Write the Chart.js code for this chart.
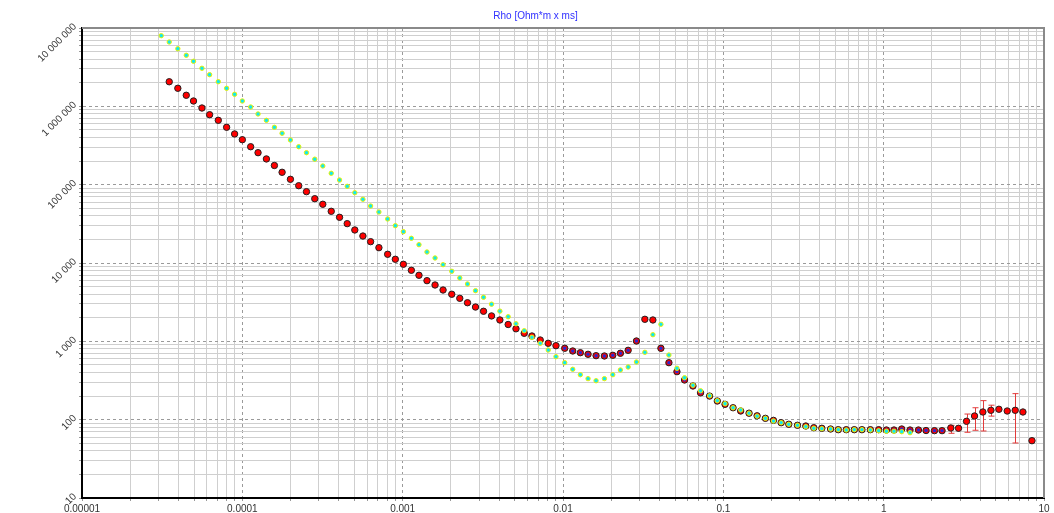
<!DOCTYPE html>
<html>
<head>
<meta charset="utf-8">
<script src="https://cdn.jsdelivr.net/npm/chart.js@4.4.1/dist/chart.umd.min.js"></script>
<style>
  html, body { margin: 0; padding: 0; background: #fff; overflow: hidden; }
  #wrap { width: 1054px; height: 513px; }
</style>
</head>
<body>
<div id="wrap"><canvas id="c" width="1054" height="513"></canvas></div>
<script>
// Decade ticks and their labels
const xTickValues = [1e-5, 1e-4, 1e-3, 1e-2, 1e-1, 1, 10];
const xTickLabels = ['0.00001', '0.0001', '0.001', '0.01', '0.1', '1', '10'];
const yTickValues = [10, 100, 1000, 1e4, 1e5, 1e6, 1e7];
const yTickLabels = ['10', '100', '1 000', '10 000', '100 000', '1 000 000', '10 000 000'];

// Measured apparent resistivity (time in ms, rho in Ohm*m)
const redTime = [
  3.50e-5, 3.96e-5, 4.47e-5, 4.96e-5, 5.60e-5, 6.25e-5, 7.08e-5, 7.98e-5, 8.95e-5, 1.00e-4,
  1.127e-4, 1.253e-4, 1.413e-4, 1.585e-4, 1.770e-4, 1.995e-4, 2.248e-4, 2.512e-4, 2.830e-4, 3.176e-4,
  3.585e-4, 4.04e-4, 4.51e-4, 5.03e-4, 5.65e-4, 6.31e-4, 7.11e-4, 8.06e-4, 9.00e-4, 1.01e-3,
  1.133e-3, 1.264e-3, 1.418e-3, 1.592e-3, 1.786e-3, 2.024e-3, 2.271e-3, 2.537e-3, 2.847e-3, 3.194e-3,
  3.584e-3, 4.04e-3, 4.55e-3, 5.09e-3, 5.73e-3, 6.40e-3, 7.21e-3, 8.09e-3, 9.04e-3, 1.025e-2,
  1.15e-2, 1.283e-2, 1.433e-2, 1.608e-2, 1.812e-2, 2.044e-2, 2.28e-2, 2.549e-2, 2.871e-2, 3.24e-2,
  3.636e-2, 4.08e-2, 4.577e-2, 5.136e-2, 5.73e-2, 6.465e-2, 7.21e-2, 8.21e-2, 9.17e-2, 0.1025,
  0.115, 0.1283, 0.1447, 0.1624, 0.183, 0.2054, 0.2294, 0.256, 0.29, 0.3269,
  0.3667, 0.4115, 0.4665, 0.521, 0.5846, 0.656, 0.732, 0.826, 0.931, 1.04,
  1.16, 1.296, 1.46, 1.648, 1.838, 2.074, 2.313, 2.623, 2.93, 3.287,
  3.688, 4.157, 4.665, 5.234, 5.896, 6.615, 7.39, 8.414
];
const redRho = [
  2.06e6, 1.70e6, 1.384e6, 1.17e6, 9.52e5, 7.82e5, 6.63e5, 5.40e5, 4.44e5, 3.75e5,
  3.05e5, 2.56e5, 2.13e5, 1.757e5, 1.439e5, 1.171e5, 9.70e4, 8.14e4, 6.62e4, 5.62e4,
  4.57e4, 3.83e4, 3.18e4, 2.64e4, 2.21e4, 1.872e4, 1.569e4, 1.292e4, 1.116e4, 9630,
  8070, 6970, 5950, 5240, 4520, 3990, 3540, 3110, 2740, 2420,
  2110, 1873, 1640, 1446, 1266, 1170, 1040, 944, 880, 815,
  753, 716, 683, 656, 650, 663, 704, 768, 1010, 1911,
  1873, 815, 534, 410, 321, 269, 220, 200, 173, 157,
  142, 129, 121, 112, 104, 98, 91.5, 87.3, 84.8, 83.0,
  79, 77.6, 76.0, 74.5, 74.5, 74.5, 74.5, 74.5, 74.5, 73.8,
  73.8, 76, 73.8, 73.8, 72.7, 72.4, 72.4, 78.3, 77.6, 95.3,
  111.4, 125.3, 131.7, 135.7, 129, 131.7, 125.3, 53.9
];

// Error bars on the late-time measurements
const errTime = [2.623, 3.287, 3.688, 4.157, 4.665, 6.615];
const errLow  = [67, 69, 73.2, 71.7, 111, 50.4];
const errHigh = [84.7, 118, 142, 175, 153, 215];

// Second curve (blue markers)
const blueTime = [
  1.025e-2, 1.15e-2, 1.283e-2, 1.433e-2, 1.608e-2, 1.812e-2, 2.044e-2, 2.28e-2, 2.549e-2, 2.871e-2,
  4.08e-2, 4.577e-2, 5.136e-2, 5.73e-2, 6.465e-2, 7.21e-2, 8.21e-2, 9.17e-2, 0.1025, 0.115,
  0.1283, 0.1447, 0.1624, 0.183, 0.2054, 0.2294, 0.256, 0.29, 0.3269, 0.3667,
  0.4115, 0.4665, 0.521, 0.5846, 0.656, 0.732, 0.826, 0.931, 1.04, 1.16,
  1.296, 1.46, 1.648, 1.838, 2.074, 2.313
];
const blueRho = [
  815, 753, 716, 683, 656, 650, 663, 704, 768, 1010,
  815, 534, 410, 321, 269, 220, 200, 173, 157, 142,
  129, 121, 112, 104, 98, 91.5, 87.3, 84.8, 83.0, 79,
  77.6, 76.0, 74.5, 74.5, 74.5, 74.5, 74.5, 74.5, 73.8, 73.8,
  76, 73.8, 73.8, 72.7, 72.4, 72.4
];

// Model curve (cyan markers)
const cyanTime = [
  3.12e-5, 3.50e-5, 3.96e-5, 4.47e-5, 4.96e-5, 5.60e-5, 6.25e-5, 7.08e-5, 7.98e-5, 8.95e-5,
  1.00e-4, 1.127e-4, 1.253e-4, 1.413e-4, 1.585e-4, 1.770e-4, 1.995e-4, 2.248e-4, 2.512e-4, 2.830e-4,
  3.176e-4, 3.585e-4, 4.04e-4, 4.51e-4, 5.03e-4, 5.65e-4, 6.31e-4, 7.11e-4, 8.06e-4, 9.00e-4,
  1.01e-3, 1.133e-3, 1.264e-3, 1.418e-3, 1.592e-3, 1.786e-3, 2.024e-3, 2.271e-3, 2.537e-3, 2.847e-3,
  3.194e-3, 3.584e-3, 4.04e-3, 4.55e-3, 5.09e-3, 5.73e-3, 6.40e-3, 7.21e-3, 8.09e-3, 9.04e-3,
  1.025e-2, 1.15e-2, 1.283e-2, 1.433e-2, 1.608e-2, 1.812e-2, 2.044e-2, 2.28e-2, 2.549e-2, 2.871e-2,
  3.24e-2, 3.636e-2, 4.08e-2, 4.577e-2, 5.136e-2, 5.73e-2, 6.465e-2, 7.21e-2, 8.21e-2, 9.17e-2,
  0.1025, 0.115, 0.1283, 0.1447, 0.1624, 0.183, 0.2054, 0.2294, 0.256, 0.29,
  0.3269, 0.3667, 0.4115, 0.4665, 0.521, 0.5846, 0.656, 0.732, 0.826, 0.931,
  1.04, 1.16, 1.296, 1.46
];
const cyanRho = [
  7.98e6, 6.63e6, 5.445e6, 4.485e6, 3.76e6, 3.06e6, 2.535e6, 2.064e6, 1.70e6, 1.425e6,
  1.17e6, 9.81e5, 7.99e5, 6.63e5, 5.40e5, 4.53e5, 3.72e5, 3.05e5, 2.56e5, 2.115e5,
  1.732e5, 1.397e5, 1.147e5, 9.53e4, 7.90e4, 6.51e4, 5.34e4, 4.48e4, 3.65e4, 2.995e4,
  2.51e4, 2.068e4, 1.713e4, 1.382e4, 1.159e4, 9520, 7840, 6440, 5400, 4430,
  3650, 2980, 2430, 2060, 1675, 1367, 1126, 944, 775, 637,
  534, 440, 375, 334, 314, 334, 375, 431, 470, 545,
  724, 1216, 1650, 669, 453, 343, 275, 234, 202, 175,
  160, 142, 133, 121, 111, 104, 96.2, 91.5, 87.3, 84.8,
  81.4, 77.6, 76.7, 76.0, 74.5, 73.8, 74.5, 74.5, 73.8, 72.3,
  71.1, 71.1, 70.2, 68.2
];

const FONT = 'Liberation Sans, Arial, sans-serif';

function toPoints(xs, ys) {
  return xs.map((x, i) => ({ x: x, y: ys[i] }));
}

// Decade lines plus the 2..9 subdivisions of each decade
function decadeTicks(values) {
  const out = [];
  values.forEach((v, i) => {
    out.push({ value: v, major: true });
    if (i < values.length - 1) {
      for (let k = 2; k <= 9; k++) out.push({ value: v * k, major: false });
    }
  });
  return out;
}

function labelFor(values, labels) {
  return function (val) {
    for (let i = 0; i < values.length; i++) {
      if (Math.abs(Math.log10(val) - Math.log10(values[i])) < 1e-6) return labels[i];
    }
    return '';
  };
}

const gridColor = (c) => (c.tick && c.tick.major) ? '#9a9a9a' : '#cfcfcf';
const gridDash = (c) => (c.tick && c.tick.major) ? [3, 3] : [];

// Error bars and the grey top/right frame
const overlay = {
  id: 'overlay',
  beforeDatasetsDraw(chart) {
    const ctx = chart.ctx;
    const area = chart.chartArea;
    const xs = chart.scales.x, ys = chart.scales.y;
    ctx.save();
    ctx.strokeStyle = '#8a8a8a';
    ctx.lineWidth = 2;
    ctx.beginPath();
    ctx.moveTo(area.left, area.top);
    ctx.lineTo(area.right, area.top);
    ctx.lineTo(area.right, area.bottom);
    ctx.stroke();

    ctx.strokeStyle = '#e23b3b';
    ctx.lineWidth = 1;
    for (let i = 0; i < errTime.length; i++) {
      const px = Math.round(xs.getPixelForValue(errTime[i])) + 0.5;
      const y1 = ys.getPixelForValue(errHigh[i]);
      const y2 = ys.getPixelForValue(errLow[i]);
      ctx.beginPath();
      ctx.moveTo(px, y1); ctx.lineTo(px, y2);
      ctx.moveTo(px - 3, y1); ctx.lineTo(px + 3, y1);
      ctx.moveTo(px - 3, y2); ctx.lineTo(px + 3, y2);
      ctx.stroke();
    }
    ctx.restore();
  }
};

new Chart(document.getElementById('c'), {
  type: 'scatter',
  data: {
    datasets: [
      {
        label: 'model',
        data: toPoints(cyanTime, cyanRho),
        order: 1,
        pointStyle: 'circle',
        pointRadius: 2.2,
        backgroundColor: '#10e8f0',
        borderColor: '#f0f000',
        borderWidth: 1
      },
      {
        label: 'fit',
        data: toPoints(blueTime, blueRho),
        order: 2,
        pointStyle: 'circle',
        pointRadius: 1.7,
        backgroundColor: '#2a2ad0',
        borderWidth: 0
      },
      {
        label: 'measured',
        data: toPoints(redTime, redRho),
        order: 3,
        pointStyle: 'circle',
        pointRadius: 3.2,
        backgroundColor: '#ff0000',
        borderColor: '#222222',
        borderWidth: 1
      }
    ]
  },
  options: {
    responsive: false,
    animation: false,
    devicePixelRatio: 1,
    layout: { padding: { left: 27, right: 10, top: 0, bottom: 0 } },
    plugins: {
      legend: { display: false },
      tooltip: { enabled: false },
      title: {
        display: true,
        text: 'Rho [Ohm*m x ms]',
        color: '#3030ff',
        font: { family: FONT, size: 10, weight: 'normal' },
        padding: { top: 10, bottom: 6 }
      }
    },
    scales: {
      x: {
        type: 'logarithmic',
        position: 'bottom',
        min: 1e-5,
        max: 10,
        afterBuildTicks: (s) => { s.ticks = decadeTicks(xTickValues); },
        afterFit: (s) => { s.height = 15; },
        grid: { color: gridColor, lineWidth: 1, tickLength: 3, tickColor: '#9a9a9a' },
        border: { display: true, color: '#000', width: 2, dash: gridDash },
        ticks: {
          autoSkip: false, maxRotation: 0, minRotation: 0, padding: 2,
          color: '#333', font: { family: FONT, size: 10 },
          callback: labelFor(xTickValues, xTickLabels)
        }
      },
      y: {
        type: 'logarithmic',
        position: 'left',
        min: 10,
        max: 1e7,
        afterBuildTicks: (s) => { s.ticks = decadeTicks(yTickValues); },
        afterFit: (s) => { s.width = 55; },
        grid: { color: gridColor, lineWidth: 1, tickLength: 3, tickColor: '#9a9a9a' },
        border: { display: true, color: '#000', width: 2, dash: gridDash },
        ticks: {
          autoSkip: false, minRotation: 45, maxRotation: 45, padding: 4, labelOffset: -3,
          color: '#333', font: { family: FONT, size: 10 },
          callback: labelFor(yTickValues, yTickLabels)
        }
      }
    }
  },
  plugins: [overlay]
});
</script>
</body>
</html>
